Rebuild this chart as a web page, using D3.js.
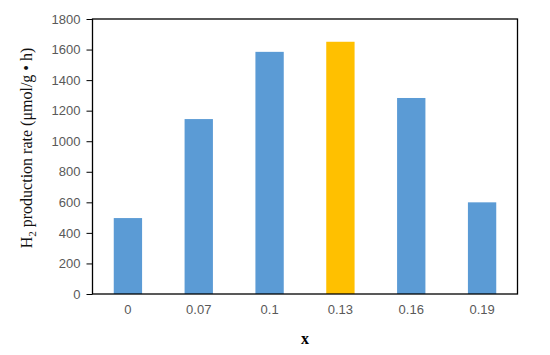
<!DOCTYPE html>
<html><head><meta charset="utf-8">
<script src="https://cdn.jsdelivr.net/npm/d3@7"></script>
<style>body{margin:0;background:#fff}</style>
</head><body>
<svg id="c" width="550" height="355"></svg>
<script>
const categories = ["0","0.07","0.1","0.13","0.16","0.19"];
const values = [497, 1145, 1585, 1651, 1283, 600];
const highlight = ["0.13"];
const yTicks = [0,200,400,600,800,1000,1200,1400,1600,1800];

const svg = d3.select("#c");
const m = {l:92.5, r:517.5, t:19, b:294};
const x = d3.scaleBand().domain(categories).range([m.l, m.r]).paddingInner(0.6).paddingOuter(0.3);
const y = d3.scaleLinear().domain([0,1800]).range([m.b, m.t]);

svg.selectAll("rect.bar").data(categories).enter().append("rect")
  .attr("class","bar")
  .attr("x", d=>x(d)).attr("width", x.bandwidth())
  .attr("y", (d,i)=>y(values[i])).attr("height", (d,i)=>y(0)-y(values[i]))
  .attr("fill", d=>highlight.includes(d) ? "#FFC000" : "#5B9BD5");

svg.append("rect").attr("x",m.l).attr("y",m.t).attr("width",m.r-m.l).attr("height",m.b-m.t)
  .attr("fill","none").attr("stroke","#000").attr("stroke-width",1.3);

const ya = svg.append("g").attr("transform",`translate(${m.l},0)`)
  .call(d3.axisLeft(y).tickValues(yTicks).tickSize(6).tickPadding(6).tickFormat(d3.format("d")));
ya.select(".domain").remove();
ya.selectAll("line").attr("stroke","#000");
ya.selectAll("text").attr("fill","#595959").style("font-family","Liberation Sans, Arial, sans-serif").style("font-size","13px");

const xa = svg.append("g").attr("transform",`translate(0,${m.b})`)
  .call(d3.axisBottom(x).tickSize(0).tickPadding(11));
xa.select(".domain").remove();
xa.selectAll("text").attr("fill","#595959").style("font-family","Liberation Sans, Arial, sans-serif").style("font-size","13px");

svg.append("text").attr("x",(m.l+m.r)/2).attr("y",344).attr("text-anchor","middle")
  .style("font-family","Liberation Serif, Times New Roman, serif").style("font-size","16px").style("font-weight","bold")
  .text("x");

const yl = svg.append("text").attr("transform","translate(32,148) rotate(-90)").attr("text-anchor","middle")
  .style("font-family","Liberation Serif, Times New Roman, serif").style("font-size","16px").attr("fill","#111");
yl.append("tspan").text("H");
yl.append("tspan").attr("dy",4).style("font-size","11px").text("2");
yl.append("tspan").attr("dy",-4).text(" production rate (μmol/g • h)");
</script>
</body></html>
